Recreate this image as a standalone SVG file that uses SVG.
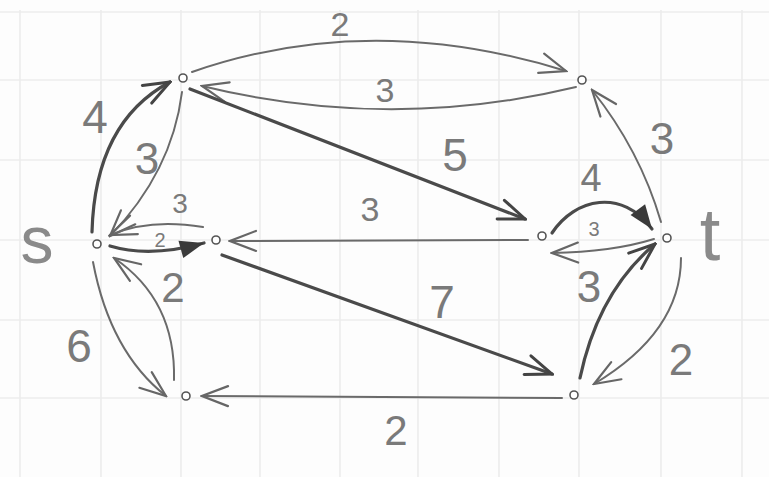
<svg xmlns="http://www.w3.org/2000/svg" width="769" height="477" viewBox="0 0 769 477">
<defs>
<style>
.grid line{stroke:#ececec;stroke-width:1.6}
.e{fill:none;stroke:#6a6a6a;stroke-width:2;stroke-linecap:round}
.th{stroke:#4a4a4a;stroke-width:3.2}
.n{fill:#fff;stroke:#555;stroke-width:1.6}
.lb{font-family:"Liberation Sans",Arial,sans-serif;fill:#7a7a7a;text-anchor:middle;dominant-baseline:central}
.nm{font-family:"Liberation Sans",Arial,sans-serif;fill:#8a8a8a;text-anchor:middle;dominant-baseline:central}
</style>
<marker id="ao" markerUnits="userSpaceOnUse" markerWidth="30" markerHeight="24" viewBox="0 0 30 24" refX="28" refY="12" orient="auto">
<path d="M2,2 L28,12 L2,22" fill="none" stroke="#666" stroke-width="2.2" stroke-linecap="round"/>
</marker>
<marker id="ad" markerUnits="userSpaceOnUse" markerWidth="30" markerHeight="24" viewBox="0 0 30 24" refX="28" refY="12" orient="auto">
<path d="M2,2 L28,12 L2,22" fill="none" stroke="#444" stroke-width="3" stroke-linecap="round"/>
</marker>
<marker id="af" markerUnits="userSpaceOnUse" markerWidth="30" markerHeight="24" viewBox="0 0 30 24" refX="26" refY="12" orient="auto">
<path d="M2,3 L26,12 L2,21 Z" fill="#3a3a3a"/>
</marker>
</defs>
<rect width="769" height="477" fill="#fdfdfd"/>
<g class="grid">
<line x1="20" y1="10" x2="20" y2="477"/><line x1="101" y1="10" x2="101" y2="477"/><line x1="181" y1="10" x2="181" y2="477"/><line x1="260" y1="10" x2="260" y2="477"/><line x1="340" y1="10" x2="340" y2="477"/><line x1="418" y1="10" x2="418" y2="477"/><line x1="499" y1="10" x2="499" y2="477"/><line x1="579" y1="10" x2="579" y2="477"/><line x1="661" y1="10" x2="661" y2="477"/><line x1="742" y1="10" x2="742" y2="477"/>
<line x1="0" y1="12" x2="769" y2="12"/><line x1="0" y1="80" x2="769" y2="80"/><line x1="0" y1="160" x2="769" y2="160"/><line x1="0" y1="240" x2="769" y2="240"/><line x1="0" y1="320" x2="769" y2="320"/><line x1="0" y1="398" x2="769" y2="398"/>
</g>
<g id="connectors">
<path class="e" d="M192,72 Q370,10 566,71" marker-end="url(#ao)"/>
<path class="e" d="M576,87 Q390,132 202,86" marker-end="url(#ao)"/>
<path class="e th" d="M92,232 Q95,122 170,82" marker-end="url(#ad)"/>
<path class="e" d="M182,92 Q172,172 110,236" marker-end="url(#ao)"/>
<path class="e th" d="M190,89 L525,219" marker-end="url(#ad)"/>
<path class="e" d="M528,240 L230,241" marker-end="url(#ao)"/>
<path class="e" d="M203,227 Q150,218 110,235" marker-end="url(#ao)"/>
<path class="e th" d="M110,246 Q150,258 204,243" marker-end="url(#af)"/>
<path class="e" d="M174,380 Q176,300 114,258" marker-end="url(#ao)"/>
<path class="e" d="M93,262 Q110,352 166,396" marker-end="url(#ao)"/>
<path class="e th" d="M222,255 L552,374" marker-end="url(#ad)"/>
<path class="e" d="M562,398 L202,396" marker-end="url(#ao)"/>
<path class="e th" d="M552,233 C575,198 622,188 652,229" marker-end="url(#af)"/>
<path class="e" d="M654,239 Q612,252 552,253" marker-end="url(#ao)"/>
<path class="e" d="M661,222 Q640,150 592,90" marker-end="url(#ao)"/>
<path class="e th" d="M580,378 Q598,292 655,244" marker-end="url(#ad)"/>
<path class="e" d="M681,258 Q681,332 594,384" marker-end="url(#ao)"/>
</g>
<g class="labels">
<text class="lb" x="340" y="24" font-size="34">2</text>
<text class="lb" x="385" y="90" font-size="34">3</text>
<text class="lb" x="95" y="117" font-size="46">4</text>
<text class="lb" x="147" y="158" font-size="44">3</text>
<text class="lb" x="180" y="203" font-size="28">3</text>
<text class="lb" x="160" y="240" font-size="20">2</text>
<text class="lb" x="173" y="287" font-size="42">2</text>
<text class="lb" x="79" y="346" font-size="46">6</text>
<text class="lb" x="455" y="155" font-size="46">5</text>
<text class="lb" x="370" y="209" font-size="34">3</text>
<text class="lb" x="591" y="178" font-size="38">4</text>
<text class="lb" x="594" y="229" font-size="20">3</text>
<text class="lb" x="662" y="138" font-size="44">3</text>
<text class="lb" x="589" y="286" font-size="44">3</text>
<text class="lb" x="681" y="359" font-size="44">2</text>
<text class="lb" x="442" y="302" font-size="46">7</text>
<text class="lb" x="396" y="430" font-size="42">2</text>
</g>
<g id="s"><circle class="n" cx="97" cy="244" r="4"/><text class="nm" x="37" y="240" font-size="66">s</text></g>
<g id="a"><circle class="n" cx="183" cy="78" r="4"/></g>
<g id="b"><circle class="n" cx="582" cy="80" r="4"/></g>
<g id="c"><circle class="n" cx="216" cy="240" r="4"/></g>
<g id="d"><circle class="n" cx="542" cy="236" r="4"/></g>
<g id="t"><circle class="n" cx="667" cy="238" r="4"/><text class="nm" x="710" y="234" font-size="74">t</text></g>
<g id="e"><circle class="n" cx="186" cy="396" r="4"/></g>
<g id="f"><circle class="n" cx="574" cy="395" r="4"/></g>
</svg>
